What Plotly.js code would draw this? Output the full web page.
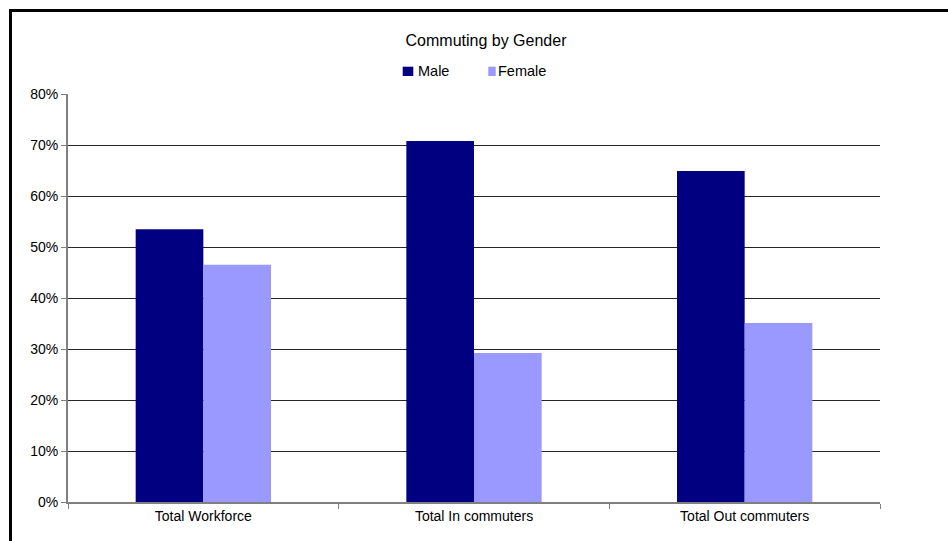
<!DOCTYPE html>
<html>
<head>
<meta charset="utf-8">
<script src="https://cdn.plot.ly/plotly-3.0.1.min.js"></script>
<style>
  html, body { margin: 0; padding: 0; background: #fff; }
  #chart { width: 948px; height: 541px; }
  /* chart-area frame: only the top and left edges fall inside the window */
  #frame {
    position: absolute; left: 9px; top: 9px; width: 980px; height: 580px;
    border-left: 3px solid #000; border-top: 3px solid #000;
    pointer-events: none;
  }
</style>
</head>
<body>
<div id="chart"></div>
<div id="frame"></div>
<script>
// Share of each group by gender
const categories = ['Total Workforce', 'Total In commuters', 'Total Out commuters'];
const male = [0.535, 0.708, 0.649];
const female = [0.465, 0.292, 0.351];
const seriesNames = ['Male', 'Female'];
const seriesColors = ['#000080', '#9999FF'];

const FONT = 'Liberation Sans, Arial, sans-serif';

const traces = [male, female].map((vals, i) => ({
  type: 'bar',
  name: seriesNames[i],
  x: categories,
  y: vals,
  marker: { color: seriesColors[i], line: { width: 0 } },
  hoverinfo: 'x+y+name'
}));

// Plot area in pixels, used to place the hand-made legend
const W = 948, H = 541;
const M = { l: 68, r: 68, t: 94, b: 39 };
const pw = W - M.l - M.r, ph = H - M.t - M.b;
const px = x => (x - M.l) / pw;
const py = y => (H - M.b - y) / ph;

// Legend: a small colour square followed by the series name
const legendItems = [
  { sq: [402.7, 413.3], tx: 415.5 },
  { sq: [488.3, 495.7], tx: 496.3 }
];
const shapes = legendItems.map((it, i) => ({
  type: 'rect', xref: 'paper', yref: 'paper',
  x0: px(it.sq[0]), x1: px(it.sq[1]), y0: py(76), y1: py(66.7),
  fillcolor: seriesColors[i], line: { width: 0 }
}));
const annotations = legendItems.map((it, i) => ({
  xref: 'paper', yref: 'paper',
  x: px(it.tx), y: py(71), xanchor: 'left', yanchor: 'middle',
  text: seriesNames[i], showarrow: false,
  font: { family: FONT, size: 14.5, color: '#000' }
}));

const layout = {
  width: W, height: H,
  margin: M,
  paper_bgcolor: '#fff', plot_bgcolor: '#fff',
  showlegend: false,
  barmode: 'group', bargap: 0.5, bargroupgap: 0,
  title: {
    text: 'Commuting by Gender',
    font: { family: FONT, size: 16, color: '#000' },
    xref: 'container', yref: 'container',
    x: 486 / W, xanchor: 'center',
    y: 1 - 40.5 / H, yanchor: 'middle'
  },
  xaxis: {
    type: 'category',
    tickson: 'boundaries',
    ticks: 'outside', ticklen: 5, tickwidth: 1, tickcolor: '#808080',
    showline: true, linecolor: '#808080', linewidth: 2,
    showgrid: false, zeroline: false,
    tickfont: { family: FONT, size: 14, color: '#000' }
  },
  yaxis: {
    range: [0, 0.8], dtick: 0.1, tickformat: '.0%',
    ticks: 'outside', ticklen: 5, tickwidth: 1, tickcolor: '#808080',
    showline: true, linecolor: '#808080', linewidth: 2,
    showgrid: true, gridcolor: '#262626', gridwidth: 1,
    zeroline: false,
    tickfont: { family: FONT, size: 14, color: '#000' }
  },
  shapes: shapes,
  annotations: annotations
};

Plotly.newPlot('chart', traces, layout, { displayModeBar: false, staticPlot: true });
</script>
</body>
</html>
